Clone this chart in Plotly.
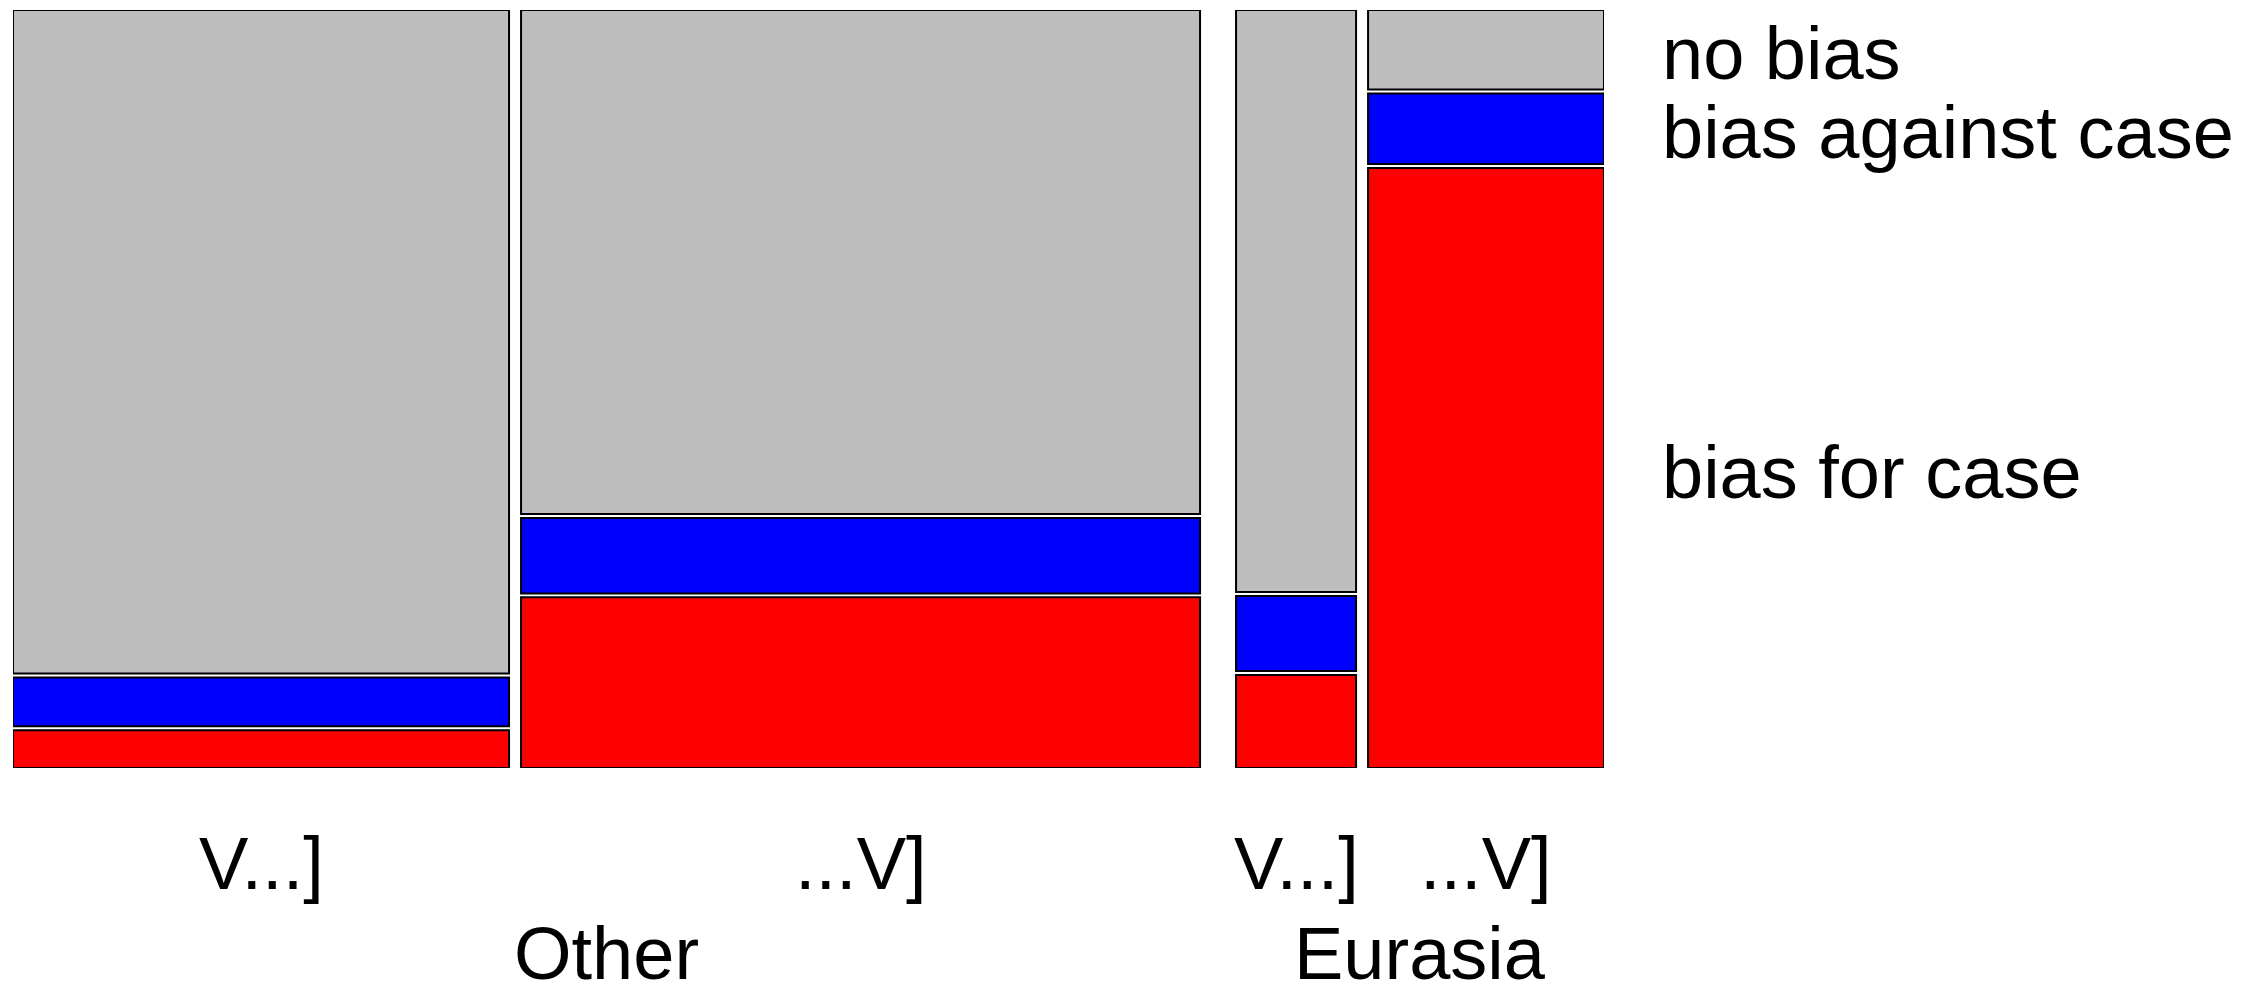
import plotly.graph_objects as go

# ---- data ----
regions = ["Other", "Other", "Eurasia", "Eurasia"]
columns = ["V...]", "...V]", "V...]", "...V]"]
col_share = [32.4, 44.35, 7.84, 15.41]          # widths (% of all cases)
categories = ["bias for case", "bias against case", "no bias"]   # bottom -> top
bias_for = [5.02, 22.75, 12.4, 80.0]
bias_against = [6.53, 10.05, 10.0, 9.4]
no_bias = [88.45, 67.2, 77.6, 10.6]

# ---- style ----
colors = ["#FF0000", "#0000FF", "#BEBEBE"]
GAP_SMALL = 0.784   # gap between columns in same region (x units)
GAP_BIG = 2.351     # gap between regions
GAP_Y = 0.533       # gap between stacked tiles (y units)
FONT = "Liberation Sans"
FS = 74

series = [bias_for, bias_against, no_bias]

# column positions
lefts = []
pos = 0.0
for i, w in enumerate(col_share):
    if i > 0:
        pos += GAP_BIG if regions[i] != regions[i - 1] else GAP_SMALL
    lefts.append(pos)
    pos += w
xmax = pos
centers = [l + w / 2 for l, w in zip(lefts, col_share)]
ymax = 100 + GAP_Y * (len(series) - 1)

fig = go.Figure()
bases_all = []
for j, (vals, col, name) in enumerate(zip(series, colors, categories)):
    bases = []
    for i in range(len(col_share)):
        b = sum(series[k][i] for k in range(j)) + j * GAP_Y
        bases.append(b)
    bases_all.append(bases)
    fig.add_trace(go.Bar(
        x=centers, y=vals, base=bases, width=col_share, name=name,
        marker=dict(color=col, line=dict(color="black", width=2)),
        showlegend=False,
    ))

annotations = []
# category labels at right, centred on last column's tiles
last = len(col_share) - 1
for j, name in enumerate(categories):
    yc = bases_all[j][last] + series[j][last] / 2
    annotations.append(dict(
        x=1, xref="paper", y=yc, yref="y", text=name, showarrow=False,
        xanchor="left", yanchor="middle", xshift=56, yshift=-4,
        font=dict(family=FONT, size=FS, color="black")))
# column labels
for c, lab in zip(centers, columns):
    annotations.append(dict(
        x=c, xref="x", y=0, yref="paper", text=lab, showarrow=False,
        xanchor="center", yanchor="middle", yshift=-95,
        font=dict(family=FONT, size=FS, color="black")))
# region labels
seen = []
for r in regions:
    if r not in seen:
        seen.append(r)
for r in seen:
    idx = [i for i, rr in enumerate(regions) if rr == r]
    x0 = lefts[idx[0]]
    x1 = lefts[idx[-1]] + col_share[idx[-1]]
    annotations.append(dict(
        x=(x0 + x1) / 2, xref="x", y=0, yref="paper", text=r, showarrow=False,
        xanchor="center", yanchor="middle", yshift=-185,
        font=dict(family=FONT, size=FS, color="black")))

fig.update_layout(
    width=2242, height=991,
    margin=dict(l=5, r=646, t=2, b=231, pad=0),
    paper_bgcolor="white", plot_bgcolor="white",
    barmode="overlay",
    xaxis=dict(range=[0, xmax], visible=False, fixedrange=True),
    yaxis=dict(range=[0, ymax], visible=False, fixedrange=True),
    annotations=annotations,
)

fig.write_html("out.html")
